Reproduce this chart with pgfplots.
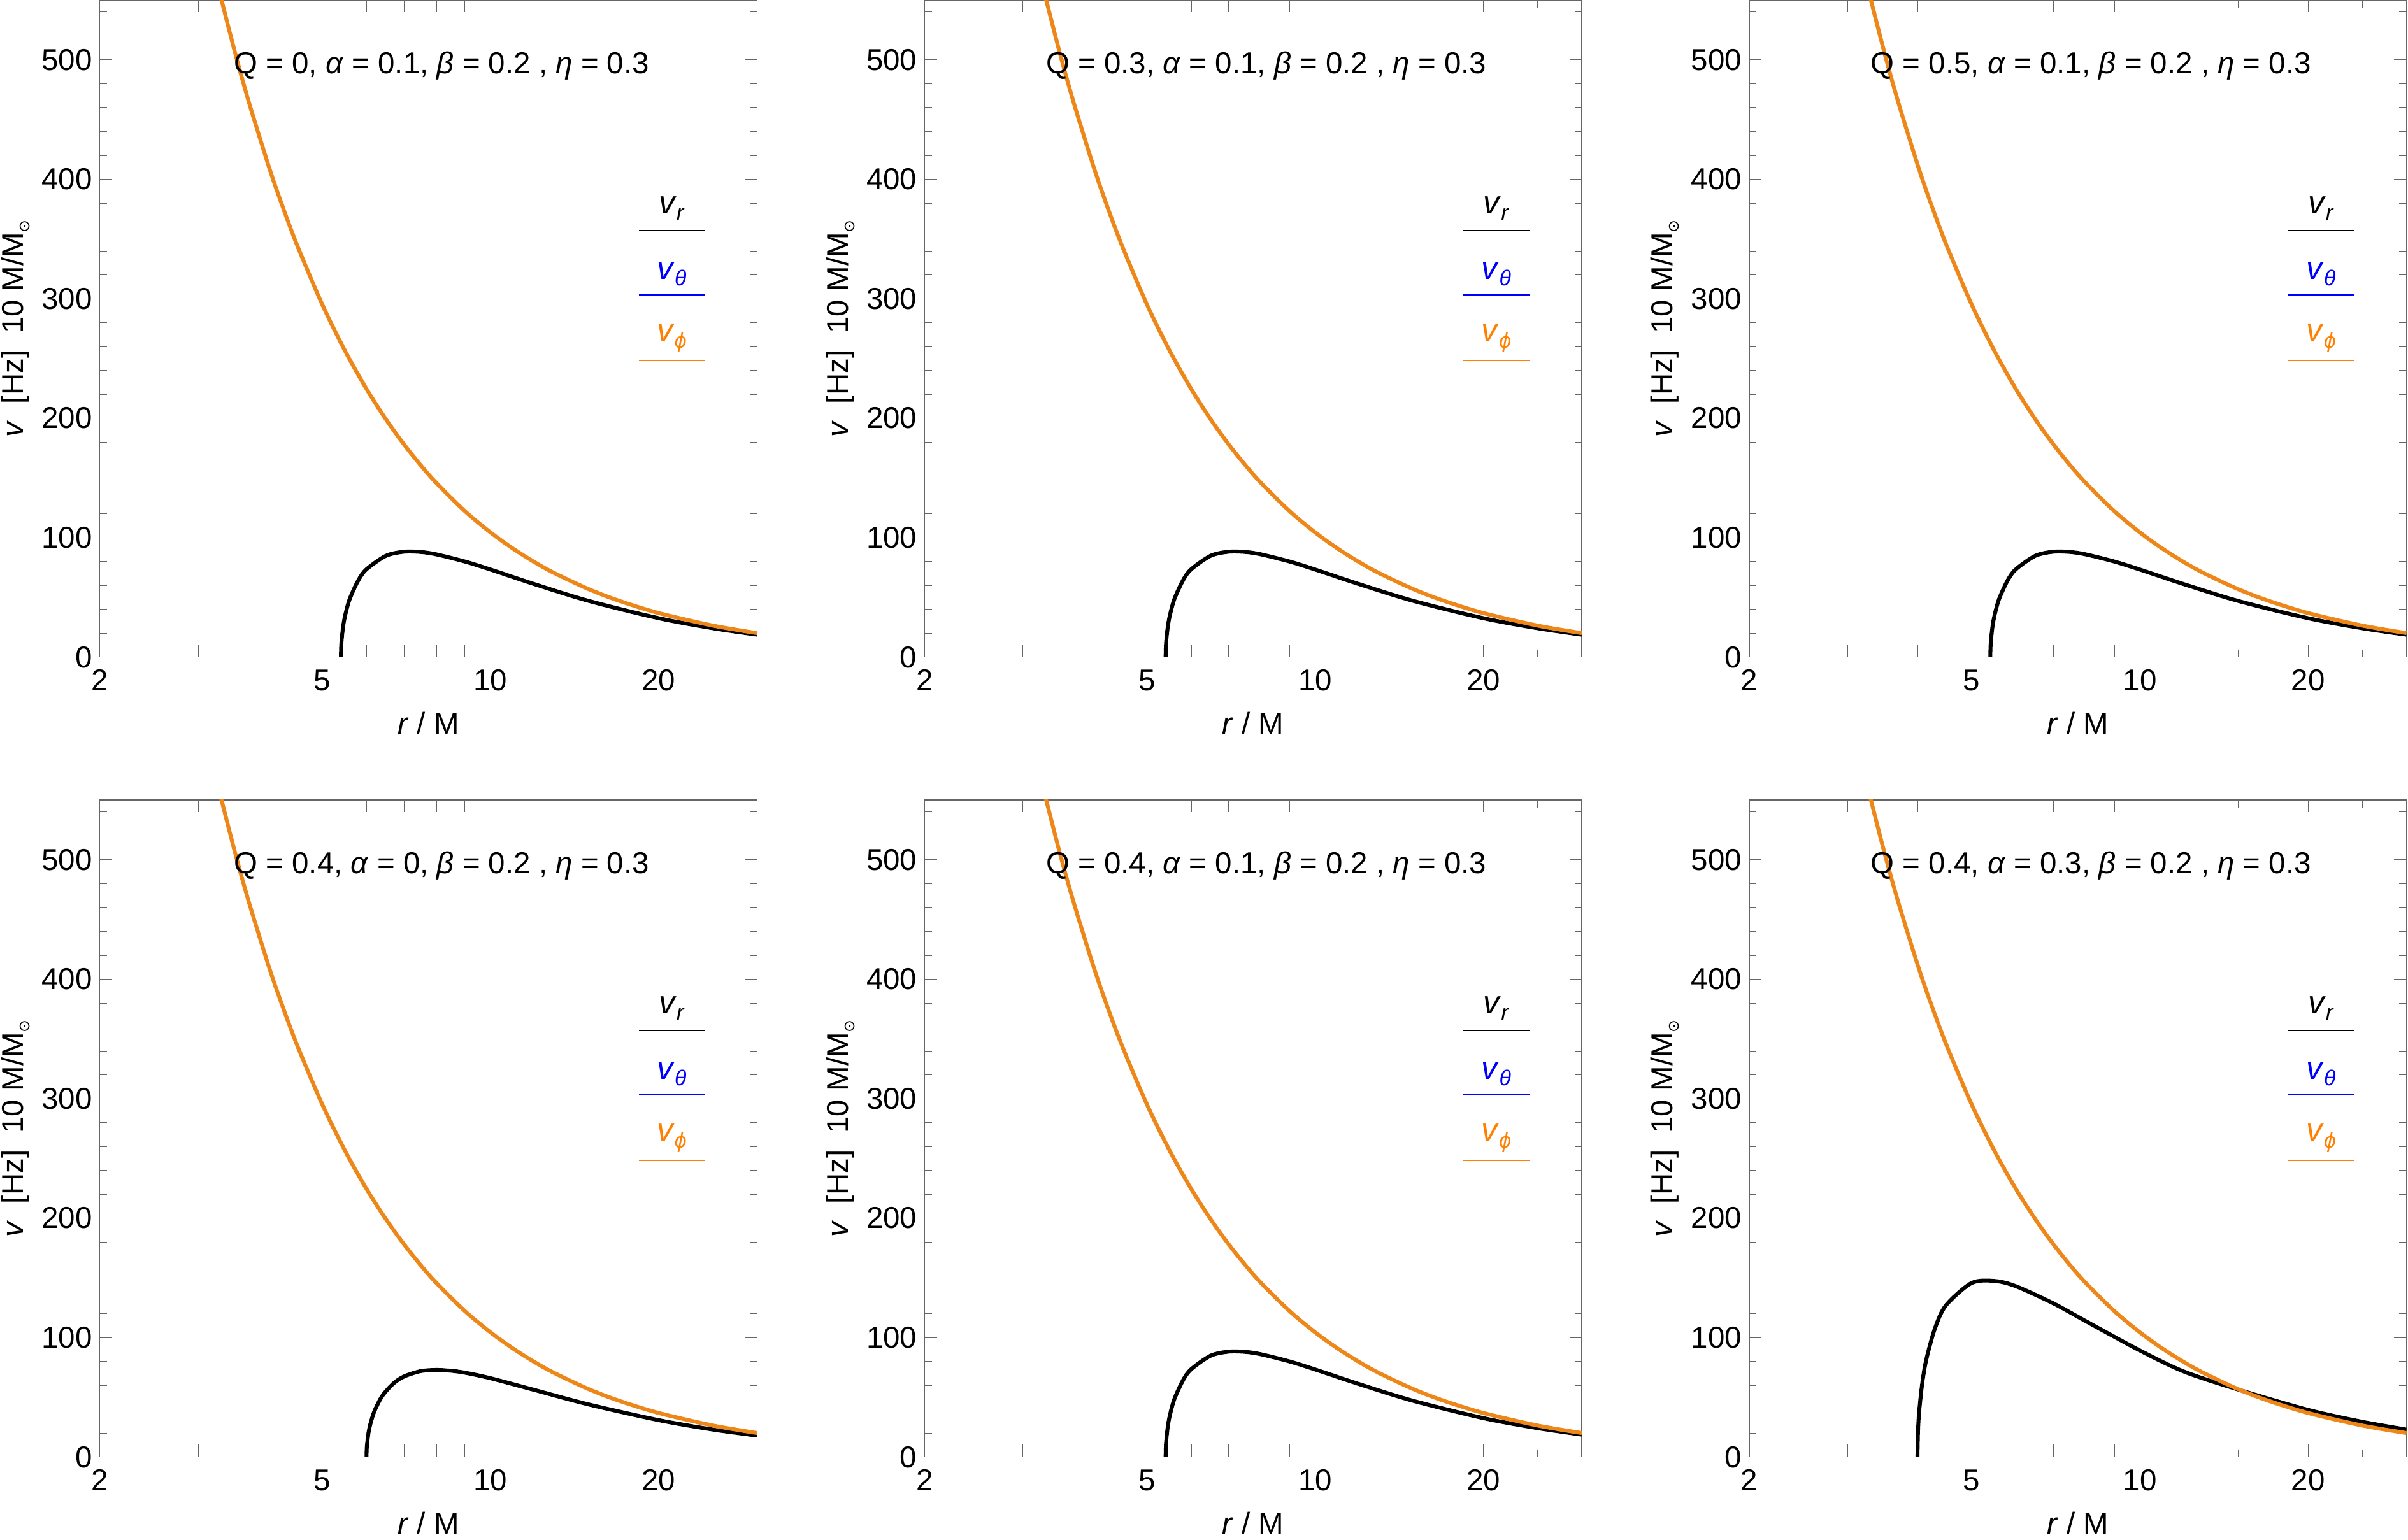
\documentclass[border=0pt]{standalone}
\usepackage{pgfplots}
\pgfplotsset{compat=1.18}
\usepackage{fontspec}
\setmainfont{Liberation Sans}
\newfontfamily\dejavu{DejaVu Sans}
\definecolor{myor}{rgb}{0.93,0.53,0.10}
\definecolor{legor}{rgb}{1,0.5,0}
\newcommand\orange{(3.2,576.5)(3.3,550.5)(3.5,504.0)(3.7,463.7)(4,412.5)(4.2,383.4)(4.5,345.7)(5,295.2)(5.5,255.8)(6,224.5)(6.5,199.1)(7,178.2)(7.5,160.7)(8,145.8)(9,122.2)(10,104.4)(11,90.5)(12,79.4)(13,70.4)(15,56.8)(17,47.1)(20,36.9)(25,26.4)(30,20.1)}
\newcommand\blackA{(5.4,0)(5.41,11.7)(5.45,25.7)(5.5,35.7)(5.6,48.7)(5.8,64.2)(6,73.5)(6.5,84.8)(7,88.2)(7.5,88.0)(8,86.0)(9,80.0)(10,73.3)(12,61.0)(15,47.0)(20,32.6)(25,24.2)(30,18.8)}
\newcommand\blackB{(6,0)(6.01,9.2)(6.05,20.2)(6.1,28.0)(6.2,38.4)(6.4,51.0)(6.7,61.5)(7,67.4)(7.5,71.9)(8,72.9)(8.5,72.2)(9,70.6)(10,66.0)(12,56.1)(15,44.0)(20,30.9)(25,23.0)(30,18.0)}
\newcommand\blackC{(4,0)(4.01,22.5)(4.03,38.8)(4.08,61.9)(4.15,81.9)(4.3,107.8)(4.5,127.1)(5,145.7)(5.5,147.4)(6,143.0)(7,128.7)(8,113.8)(10,89.2)(12,71.5)(15,56.5)(20,39.5)(25,29.5)(30,23.0)}
\newcommand\panel[4]{%
\begin{axis}[at={(#1cm,#2cm)},anchor=south west,scale only axis,
 width=10.7cm,height=10.7cm,xmode=log,xmin=2,xmax=30,ymin=0,ymax=550,
 axis line style={gray!80!black},
 tick style={gray!80!black},
 xtick={2,3,4,5,6,7,8,9,10,20,30},xticklabels={2,,,5,,,,,10,20,},
 minor xtick={15,25},
 ytick={0,100,...,500},minor ytick={20,40,...,540},
 major tick length=0.2cm,minor tick length=0.12cm,
 tick align=inside,
 /pgf/number format/assume math mode=true,
 ticklabel style={font=\fontsize{14}{16}\selectfont},
 xticklabel style={yshift=-0.08cm},
 label style={font=\fontsize{14}{16}\selectfont},
 xlabel={\textit{r} / M},
 ylabel={\textit{v}\ \ [Hz]\ \ 10 M/M\raisebox{-0.4ex}{\dejavu\scriptsize ⊙}},
 ylabel style={yshift=-0.05cm},
 xlabel style={yshift=-0.1cm},
 clip=true]
\addplot[black,line width=1.8pt,smooth] coordinates {#4};
\addplot[myor,line width=1.8pt,smooth] coordinates {\orange};
\node[font=\fontsize{14}{16}\selectfont] at (rel axis cs:0.52,0.9) {#3};
\draw[black,line width=0.6pt] (rel axis cs:0.82,0.649)--(rel axis cs:0.92,0.649);
\draw[blue,line width=0.6pt] (rel axis cs:0.82,0.551)--(rel axis cs:0.92,0.551);
\draw[legor,line width=0.6pt] (rel axis cs:0.82,0.451)--(rel axis cs:0.92,0.451);
\node[font=\fontsize{15}{16}\selectfont] at (rel axis cs:0.87,0.683) {\textit{v}\raisebox{-0.4ex}{\normalsize\textit{r}}};
\node[font=\fontsize{15}{16}\selectfont,text=blue] at (rel axis cs:0.87,0.583) {\textit{v}\raisebox{-0.4ex}{\normalsize\textit{θ}}};
\node[font=\fontsize{15}{16}\selectfont,text=legor] at (rel axis cs:0.87,0.485) {\textit{v}\raisebox{-0.4ex}{\normalsize\textit{ϕ}}};
\end{axis}}
\begin{document}
\begin{tikzpicture}
\useasboundingbox (0,0) rectangle (39.2,25.075);
\panel{1.625}{14.375}{Q = 0, \textit{α} = 0.1, \textit{β} = 0.2 , \textit{η} = 0.3}{\blackA}
\panel{15.05}{14.375}{Q = 0.3, \textit{α} = 0.1, \textit{β} = 0.2 , \textit{η} = 0.3}{\blackA}
\panel{28.475}{14.375}{Q = 0.5, \textit{α} = 0.1, \textit{β} = 0.2 , \textit{η} = 0.3}{\blackA}
\panel{1.625}{1.35}{Q = 0.4, \textit{α} = 0, \textit{β} = 0.2 , \textit{η} = 0.3}{\blackB}
\panel{15.05}{1.35}{Q = 0.4, \textit{α} = 0.1, \textit{β} = 0.2 , \textit{η} = 0.3}{\blackA}
\panel{28.475}{1.35}{Q = 0.4, \textit{α} = 0.3, \textit{β} = 0.2 , \textit{η} = 0.3}{\blackC}
\end{tikzpicture}
\end{document}
